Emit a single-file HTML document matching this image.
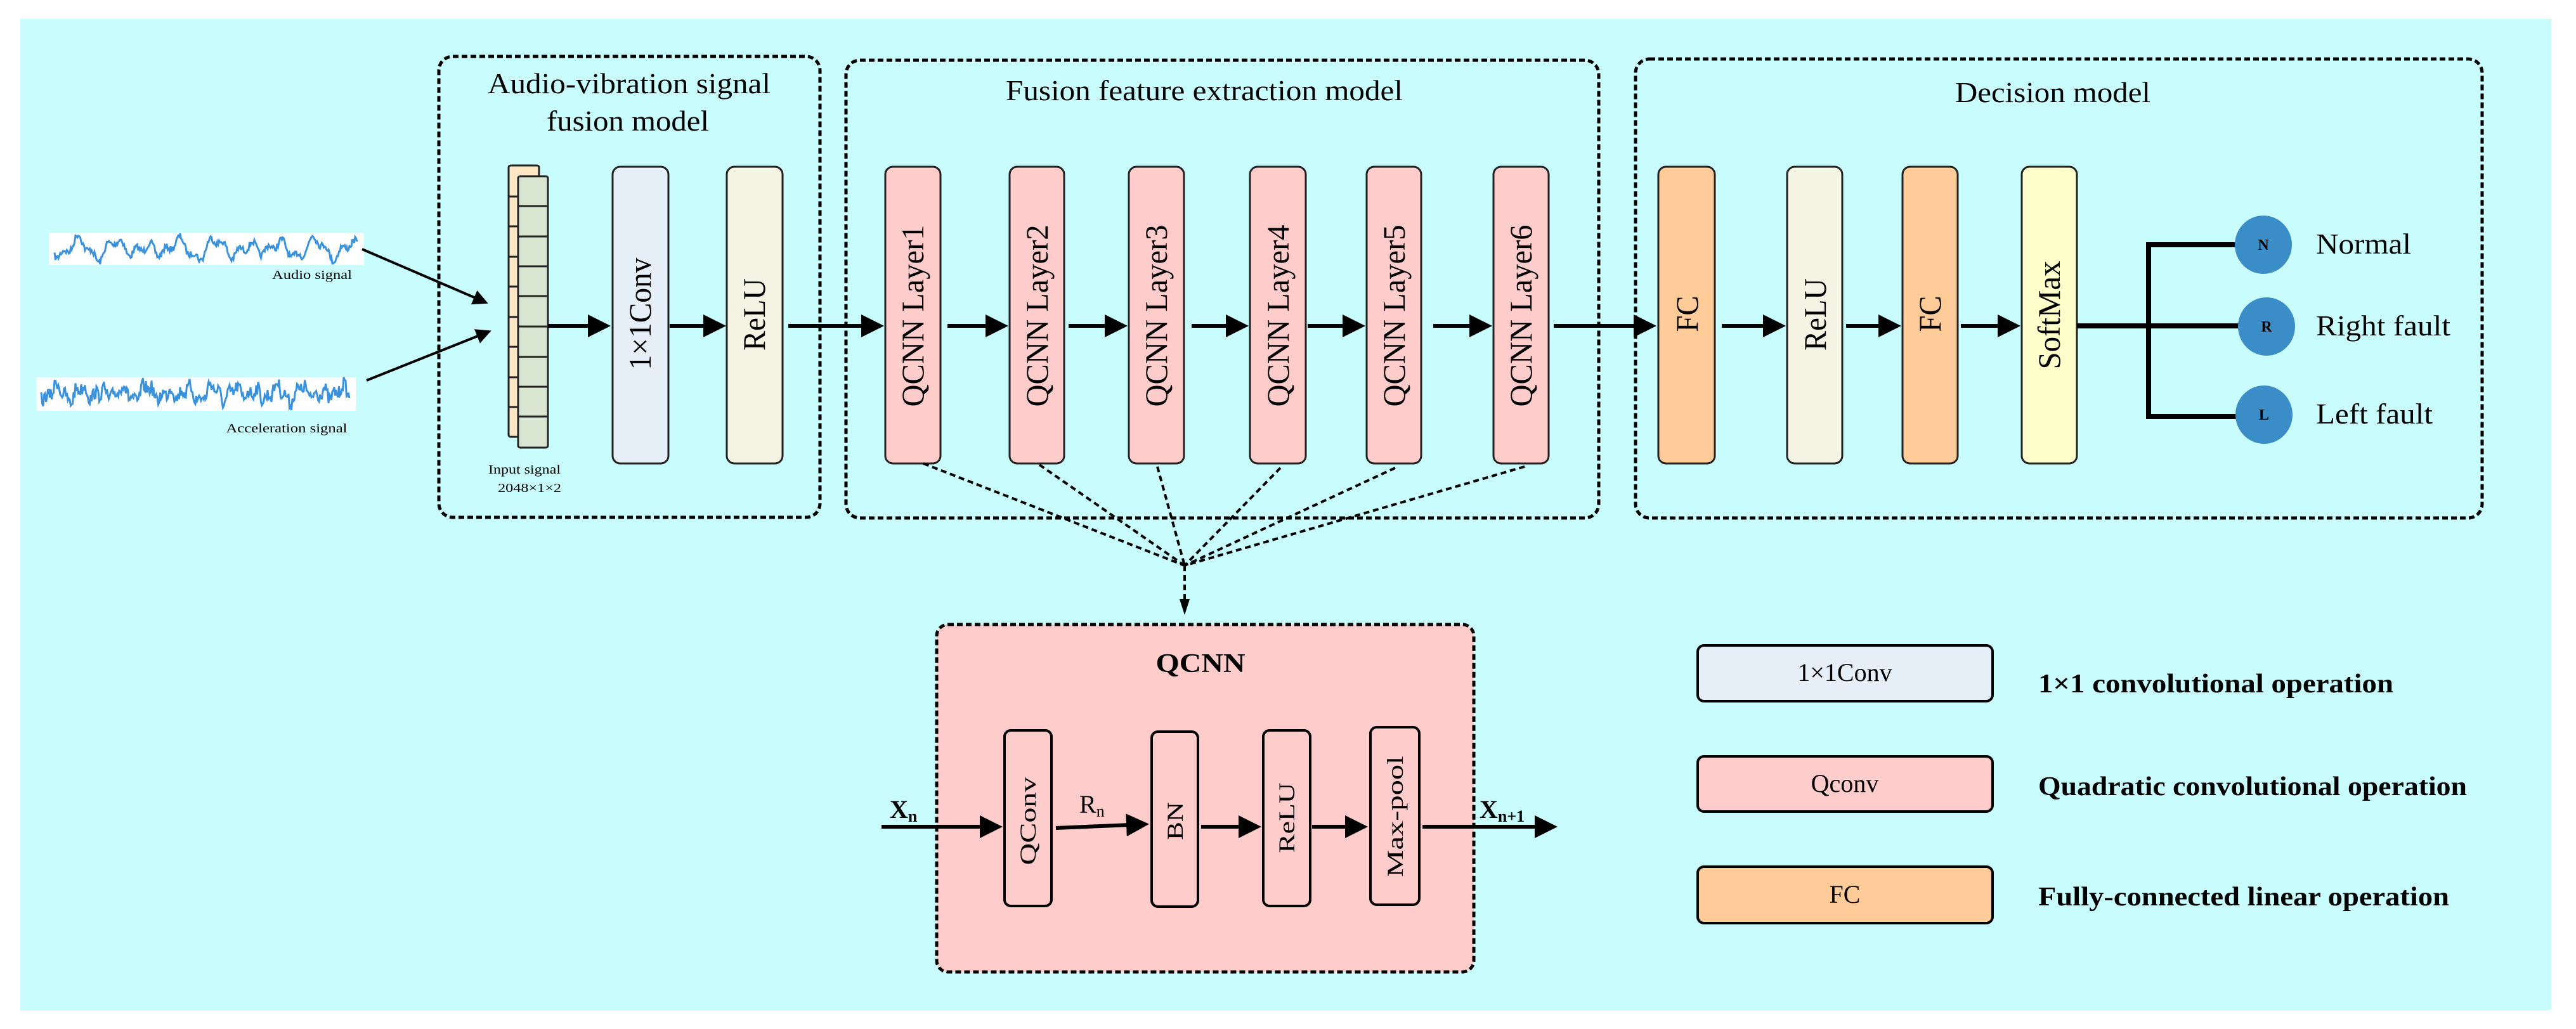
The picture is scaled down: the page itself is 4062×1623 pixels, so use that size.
<!DOCTYPE html>
<html><head><meta charset="utf-8"><style>
html,body{margin:0;padding:0;background:#fff;}
svg{display:block;}
text{font-family:"Liberation Serif",serif;fill:#000;}
</style></head><body>
<svg id="s" width="4062" height="1623" viewBox="0 0 4062 1623" xmlns="http://www.w3.org/2000/svg">
<defs>
<marker id="ah" markerWidth="6" markerHeight="6" refX="5" refY="3" orient="auto" markerUnits="strokeWidth"><path d="M0,0 L6,3 L0,6 z" fill="#000"/></marker>
</defs>
<rect x="32" y="30" width="3991" height="1563" fill="#C9FCFD"/>

<g fill="none" stroke="#000" stroke-width="5" stroke-dasharray="9 5">
<rect x="692" y="89" width="601" height="727" rx="22"/>
<rect x="1334" y="95" width="1187" height="722" rx="22"/>
<rect x="2579" y="93" width="1335" height="724" rx="22"/>
</g>
<text x="992" y="147" font-size="46" text-anchor="middle" textLength="446" lengthAdjust="spacingAndGlyphs">Audio-vibration signal</text>
<text x="990" y="206" font-size="46" text-anchor="middle" textLength="256" lengthAdjust="spacingAndGlyphs">fusion model</text>
<text x="1899" y="158" font-size="46" text-anchor="middle" textLength="626" lengthAdjust="spacingAndGlyphs">Fusion feature extraction model</text>
<text x="3237" y="161" font-size="46" text-anchor="middle" textLength="308" lengthAdjust="spacingAndGlyphs">Decision model</text>

<rect x="77" y="367" width="497" height="51" fill="#fff"/>
<rect x="57" y="595" width="504" height="53" fill="#fff"/>
<polyline id="w1" fill="none" stroke="#3A92DC" stroke-width="3"/>
<polyline id="w2" fill="none" stroke="#3A92DC" stroke-width="3"/>
<text x="492" y="440" font-size="20" text-anchor="middle" textLength="126" lengthAdjust="spacingAndGlyphs">Audio signal</text>
<text x="452" y="682" font-size="20" text-anchor="middle" textLength="191" lengthAdjust="spacingAndGlyphs">Acceleration signal</text>
<line x1="571" y1="393" x2="766" y2="477" stroke="#000" stroke-width="4" marker-end="url(#ah)"/>
<line x1="578" y1="600" x2="771" y2="523" stroke="#000" stroke-width="4" marker-end="url(#ah)"/>

<rect x="802" y="261" width="48" height="428" fill="#FDE6C6" stroke="#222" stroke-width="3" rx="3"/>
<rect x="817" y="278" width="47" height="428" fill="#D8E6D2" stroke="#222" stroke-width="3" rx="3"/>
<g stroke="#222" stroke-width="3">
<line x1="817" y1="325" x2="864" y2="325"/><line x1="817" y1="373" x2="864" y2="373"/>
<line x1="817" y1="420" x2="864" y2="420"/><line x1="817" y1="467" x2="864" y2="467"/>
<line x1="817" y1="515" x2="864" y2="515"/><line x1="817" y1="563" x2="864" y2="563"/>
<line x1="817" y1="610" x2="864" y2="610"/><line x1="817" y1="657" x2="864" y2="657"/>
<line x1="802" y1="310" x2="817" y2="310"/><line x1="802" y1="357" x2="817" y2="357"/>
<line x1="802" y1="405" x2="817" y2="405"/><line x1="802" y1="452" x2="817" y2="452"/>
<line x1="802" y1="500" x2="817" y2="500"/><line x1="802" y1="547" x2="817" y2="547"/>
<line x1="802" y1="595" x2="817" y2="595"/><line x1="802" y1="642" x2="817" y2="642"/>
</g>
<text x="827" y="747" font-size="20" text-anchor="middle" textLength="114" lengthAdjust="spacingAndGlyphs">Input signal</text>
<text x="835" y="776" font-size="20" text-anchor="middle" textLength="100" lengthAdjust="spacingAndGlyphs">2048×1×2</text>

<g stroke="#222" stroke-width="3">
<rect x="966" y="263" width="88" height="468" rx="12" fill="#E6EEF8"/>
<rect x="1146" y="263" width="88" height="468" rx="12" fill="#F4F4E4"/>
<rect x="1396" y="263" width="87" height="468" rx="12" fill="#FFCCCC"/>
<rect x="1592" y="263" width="86" height="468" rx="12" fill="#FFCCCC"/>
<rect x="1780" y="263" width="87" height="468" rx="12" fill="#FFCCCC"/>
<rect x="1971" y="263" width="88" height="468" rx="12" fill="#FFCCCC"/>
<rect x="2155" y="263" width="86" height="468" rx="12" fill="#FFCCCC"/>
<rect x="2355" y="263" width="87" height="468" rx="12" fill="#FFCCCC"/>
<rect x="2615" y="263" width="89" height="468" rx="12" fill="#FFCC99"/>
<rect x="2818" y="263" width="87" height="468" rx="12" fill="#F4F4E4"/>
<rect x="3000" y="263" width="87" height="468" rx="12" fill="#FFCC99"/>
<rect x="3188" y="263" width="87" height="468" rx="12" fill="#FFFFCC"/>
</g>
<g font-size="50">
<text transform="translate(1026,495) rotate(-90)" text-anchor="middle" textLength="177" lengthAdjust="spacingAndGlyphs">1×1Conv</text>
<text transform="translate(1206,496) rotate(-90)" text-anchor="middle" textLength="114" lengthAdjust="spacingAndGlyphs">ReLU</text>
<text transform="translate(1456,498) rotate(-90)" text-anchor="middle" textLength="287" lengthAdjust="spacingAndGlyphs">QCNN Layer1</text>
<text transform="translate(1652,498) rotate(-90)" text-anchor="middle" textLength="287" lengthAdjust="spacingAndGlyphs">QCNN Layer2</text>
<text transform="translate(1840,498) rotate(-90)" text-anchor="middle" textLength="287" lengthAdjust="spacingAndGlyphs">QCNN Layer3</text>
<text transform="translate(2032,498) rotate(-90)" text-anchor="middle" textLength="287" lengthAdjust="spacingAndGlyphs">QCNN Layer4</text>
<text transform="translate(2215,498) rotate(-90)" text-anchor="middle" textLength="287" lengthAdjust="spacingAndGlyphs">QCNN Layer5</text>
<text transform="translate(2415,498) rotate(-90)" text-anchor="middle" textLength="287" lengthAdjust="spacingAndGlyphs">QCNN Layer6</text>
<text transform="translate(2677,495) rotate(-90)" text-anchor="middle" textLength="57" lengthAdjust="spacingAndGlyphs">FC</text>
<text transform="translate(2879,496) rotate(-90)" text-anchor="middle" textLength="114" lengthAdjust="spacingAndGlyphs">ReLU</text>
<text transform="translate(3060,495) rotate(-90)" text-anchor="middle" textLength="57" lengthAdjust="spacingAndGlyphs">FC</text>
<text transform="translate(3248,497) rotate(-90)" text-anchor="middle" textLength="171" lengthAdjust="spacingAndGlyphs">SoftMax</text>
</g>

<g stroke="#000" stroke-width="6" marker-end="url(#ah)">
<line x1="864" y1="514" x2="957" y2="514"/>
<line x1="1056" y1="514" x2="1139" y2="514"/>
<line x1="1243" y1="514" x2="1388" y2="514"/>
<line x1="1494" y1="514" x2="1584" y2="514"/>
<line x1="1685" y1="514" x2="1772" y2="514"/>
<line x1="1879" y1="514" x2="1963" y2="514"/>
<line x1="2062" y1="514" x2="2147" y2="514"/>
<line x1="2260" y1="514" x2="2347" y2="514"/>
<line x1="2450" y1="514" x2="2606" y2="514"/>
<line x1="2715" y1="514" x2="2810" y2="514"/>
<line x1="2911" y1="514" x2="2992" y2="514"/>
<line x1="3092" y1="514" x2="3180" y2="514"/>
</g>

<g stroke="#000" stroke-width="8" fill="none">
<line x1="3275" y1="514" x2="3530" y2="514"/>
<polyline points="3530,386 3388,386 3388,657 3530,657"/>
</g>
<g fill="#3A8DC6">
<ellipse cx="3569" cy="386" rx="45" ry="46"/>
<ellipse cx="3574" cy="515" rx="45" ry="46"/>
<ellipse cx="3570" cy="654" rx="45" ry="46"/>
</g>
<g font-size="24" font-weight="bold" text-anchor="middle">
<text x="3569" y="394">N</text><text x="3574" y="523">R</text><text x="3570" y="662">L</text>
</g>
<g font-size="46">
<text x="3652" y="400" textLength="150" lengthAdjust="spacingAndGlyphs">Normal</text>
<text x="3652" y="529" textLength="212" lengthAdjust="spacingAndGlyphs">Right fault</text>
<text x="3652" y="668" textLength="184" lengthAdjust="spacingAndGlyphs">Left fault</text>
</g>

<g stroke="#000" stroke-width="4" stroke-dasharray="9 6" fill="none">
<line x1="1456" y1="731" x2="1868" y2="892"/>
<line x1="1639" y1="733" x2="1868" y2="892"/>
<line x1="1825" y1="736" x2="1868" y2="892"/>
<line x1="2019" y1="738" x2="1868" y2="892"/>
<line x1="2200" y1="738" x2="1868" y2="892"/>
<line x1="2404" y1="736" x2="1868" y2="892"/>
<line x1="1868" y1="892" x2="1868" y2="950"/>
</g>
<path d="M1860,945 L1876,945 L1868,970 z" fill="#000"/>

<rect x="1477" y="985" width="847" height="548" rx="18" fill="#FFCCCC" stroke="#000" stroke-width="5" stroke-dasharray="9 5"/>
<text x="1893" y="1060" font-size="42" font-weight="bold" text-anchor="middle" textLength="141" lengthAdjust="spacingAndGlyphs">QCNN</text>
<g stroke="#000" stroke-width="4" fill="#FFCCCC">
<rect x="1584" y="1152" width="74" height="277" rx="10"/>
<rect x="1816" y="1154" width="73" height="276" rx="10"/>
<rect x="1992" y="1152" width="74" height="277" rx="10"/>
<rect x="2161" y="1147" width="77" height="280" rx="10"/>
</g>
<g font-size="36">
<text transform="translate(1633,1295) rotate(-90)" text-anchor="middle" textLength="139" lengthAdjust="spacingAndGlyphs">QConv</text>
<text transform="translate(1865,1295) rotate(-90)" text-anchor="middle" textLength="60" lengthAdjust="spacingAndGlyphs">BN</text>
<text transform="translate(2041,1290) rotate(-90)" text-anchor="middle" textLength="111" lengthAdjust="spacingAndGlyphs">ReLU</text>
<text transform="translate(2212,1288) rotate(-90)" text-anchor="middle" textLength="191" lengthAdjust="spacingAndGlyphs">Max-pool</text>
</g>
<g stroke="#000" stroke-width="6" marker-end="url(#ah)">
<line x1="1390" y1="1304" x2="1575" y2="1304"/>
<line x1="1665" y1="1306" x2="1806" y2="1300"/>
<line x1="1894" y1="1304" x2="1983" y2="1304"/>
<line x1="2069" y1="1304" x2="2151" y2="1304"/>
<line x1="2243" y1="1304" x2="2450" y2="1304"/>
</g>
<text x="1403" y="1290" font-size="40" font-weight="bold">X<tspan font-size="26" dy="6">n</tspan></text>
<text x="1702" y="1282" font-size="40">R<tspan font-size="26" dy="6">n</tspan></text>
<text x="2333" y="1290" font-size="40" font-weight="bold">X<tspan font-size="26" dy="6">n+1</tspan></text>

<g stroke="#000" stroke-width="4">
<rect x="2677" y="1018" width="465" height="88" rx="10" fill="#E6EEF8"/>
<rect x="2677" y="1193" width="465" height="87" rx="10" fill="#FFCCCC"/>
<rect x="2677" y="1367" width="465" height="89" rx="10" fill="#FFCC99"/>
</g>
<g font-size="40" text-anchor="middle">
<text x="2909" y="1074">1×1Conv</text>
<text x="2909" y="1249">Qconv</text>
<text x="2909" y="1424">FC</text>
</g>
<g font-size="42" font-weight="bold">
<text x="3214" y="1092" textLength="560" lengthAdjust="spacingAndGlyphs">1×1 convolutional operation</text>
<text x="3214" y="1254" textLength="676" lengthAdjust="spacingAndGlyphs">Quadratic convolutional operation</text>
<text x="3214" y="1428" textLength="648" lengthAdjust="spacingAndGlyphs">Fully-connected linear operation</text>
</g>
</svg>
<script>
(function(){
var seed=7;function r(){seed=(seed*16807)%2147483647;return seed/2147483647;}
function wave(id,x0,x1,yc,amp,noise,f){
 var p=[],n=Math.floor((x1-x0)/1.5);
 for(var i=0;i<=n;i++){var x=x0+i*1.5;var t=i/n;
  var y=yc+amp*(Math.sin(t*f*6.28)*0.5+Math.sin(t*f*2.3*6.28+1)*0.35+Math.sin(t*f*0.7*6.28+2)*0.3)+(r()-0.5)*noise;
  p.push(x.toFixed(1)+","+y.toFixed(1));}
 document.getElementById(id).setAttribute("points",p.join(" "));
}
wave("w1",86,563,392,20,10,9);
wave("w2",65,552,620,16,22,14);
})();
</script>
</body></html>
